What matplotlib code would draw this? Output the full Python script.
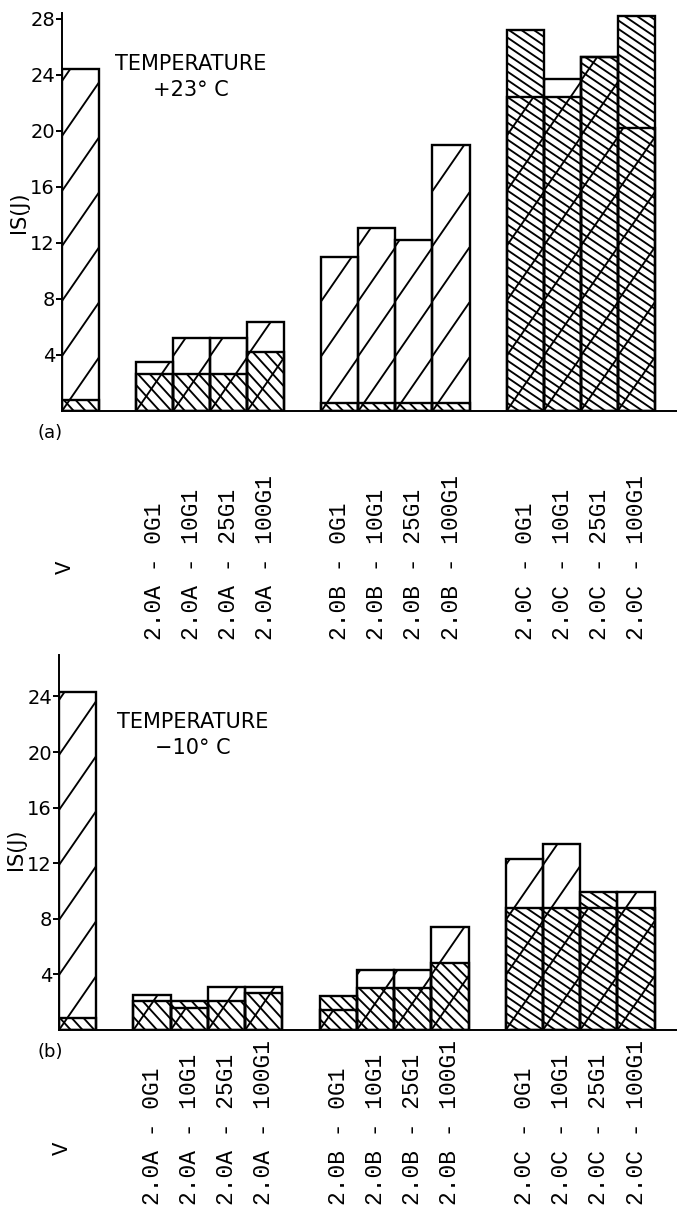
import numpy as np
import matplotlib
matplotlib.use("Agg")
import matplotlib.pyplot as plt
from matplotlib.collections import LineCollection
from matplotlib.transforms import IdentityTransform, blended_transform_factory

# ---- data ----
labels = ["V",
          "2.0A - 0G1", "2.0A - 10G1", "2.0A - 25G1", "2.0A - 100G1",
          "2.0B - 0G1", "2.0B - 10G1", "2.0B - 25G1", "2.0B - 100G1",
          "2.0C - 0G1", "2.0C - 10G1", "2.0C - 25G1", "2.0C - 100G1"]
group_sizes = [1, 4, 4, 4]

# +23 C : height of the "/" hatched bar and of the "\" hatched bar (IS, J)
sparse_23 = [24.4, 3.5, 5.2, 5.2, 6.35, 11.0, 13.1, 12.2, 19.0, 22.4, 23.7, 25.3, 20.2]
dense_23 = [0.8, 2.65, 2.65, 2.65, 4.25, 0.6, 0.6, 0.6, 0.6, 27.2, 22.4, 25.3, 28.2]

# -10 C
sparse_m10 = [24.3, 2.5, 1.6, 3.1, 3.1, 1.45, 4.35, 4.35, 7.4, 12.3, 13.4, 8.8, 9.95]
dense_m10 = [0.85, 2.1, 2.1, 2.1, 2.65, 2.45, 3.05, 3.05, 4.85, 8.8, 8.8, 9.95, 8.8]

yticks_23 = [4, 8, 12, 16, 20, 24, 28]
yticks_m10 = [4, 8, 12, 16, 20, 24]

# ---- style ----
W, H = 677, 1214
LABEL_FONT = ["Liberation Mono", "DejaVu Sans Mono"]
SANS = dict(family=["DejaVu Sans"])
dense_style = [(-1.1, 13), (-1.1, 13), (-1.0, 11), (-0.68, 8.5)]  # per group: slope, step px
SPARSE_SLOPE, SPARSE_STEP = 1.45, 55

# bar centres: one slot per bar, one empty slot between groups
xpos, group_of = [], []
pos = 0.5
for g, n in enumerate(group_sizes):
    for i in range(n):
        xpos.append(pos)
        group_of.append(g)
        pos += 1
    pos += 1
xpos = np.array(xpos)


def px_rect(left, top, right, bottom):
    return [left / W, 1 - bottom / H, (right - left) / W, (bottom - top) / H]


def hatch(ax, bars, slopes, steps, lw=1.35):
    for bar, m, s in zip(bars, slopes, steps):
        ext = bar.get_window_extent()
        x0, y0, x1, y1 = ext.x0, ext.y0, ext.x1, ext.y1
        w, h = x1 - x0, y1 - y0
        kmin = int(np.floor(-max(m, 0) * w / s)) - 1
        kmax = int(np.ceil((h + max(-m, 0) * w) / s)) + 1
        segs = [[(x0, y0 + k * s), (x1, y0 + k * s + m * w)] for k in range(kmin, kmax + 1)]
        lc = LineCollection(segs, colors="black", linewidths=lw,
                            transform=IdentityTransform())
        ax.add_collection(lc, autolim=False)
        # clip after adding, otherwise add_collection resets it to the axes box
        lc.set_clip_path(bar)


def panel(rect, ymax, sparse, dense, yticks, title, temp, tag, tag_y,
          lab_bottom, v_y, title_xy, ylabel_xy):
    ax = fig.add_axes(rect)
    ax.set_xlim(0, 16.6)
    ax.set_ylim(0, ymax)
    for sp in ["top", "right"]:
        ax.spines[sp].set_visible(False)
    ax.spines["left"].set_linewidth(1.4)
    ax.spines["bottom"].set_linewidth(1.4)
    ax.set_xticks([])
    ax.set_yticks(yticks)
    ax.tick_params(axis="y", direction="out", length=4, width=1.4, pad=1, labelsize=14)

    b_sparse = ax.bar(xpos, sparse, width=1.0, fill=False, edgecolor="black", linewidth=1.7)
    b_dense = ax.bar(xpos, dense, width=1.0, fill=False, edgecolor="black", linewidth=1.7)
    hatch(ax, b_sparse, [SPARSE_SLOPE] * len(xpos), [SPARSE_STEP] * len(xpos))
    hatch(ax, b_dense, [dense_style[g][0] for g in group_of],
          [dense_style[g][1] for g in group_of])

    tr = blended_transform_factory(ax.transData, fig.transFigure)
    for x, lab in zip(xpos, labels):
        if lab == "V":
            ax.text(x - 0.4, 1 - v_y / H, lab, transform=tr, rotation=90, ha="center",
                    va="center", family=LABEL_FONT, fontsize=16)
        else:
            ax.text(x, 1 - lab_bottom / H, lab, transform=tr, rotation=90, ha="center",
                    va="bottom", family=LABEL_FONT, fontsize=16.5)

    tx, ty = title_xy
    fig.text(tx / W, 1 - ty / H, title, ha="center", va="center", fontsize=15, **SANS)
    fig.text(tx / W, 1 - (ty + 26) / H, temp, ha="center", va="center", fontsize=15, **SANS)
    fig.text(ylabel_xy[0] / W, 1 - ylabel_xy[1] / H, "IS(J)", rotation=90, ha="center",
             va="center", fontsize=15, **SANS)
    fig.text(50 / W, 1 - tag_y / H, tag, ha="center", va="center", fontsize=13, **SANS)
    return ax


fig = plt.figure(figsize=(W / 100, H / 100), dpi=100)

panel(px_rect(62, 411 - 28.4 * 14.0, 677, 411), 28.4, sparse_23, dense_23, yticks_23,
      "TEMPERATURE", "+23° C", "(a)", 433, 640, 567, (191, 64), (19, 212))
panel(px_rect(59, 1030 - 27.0 * 13.9, 677, 1030), 27.0, sparse_m10, dense_m10, yticks_m10,
      "TEMPERATURE", "\u221210° C", "(b)", 1052, 1205, 1148, (193, 722), (16, 849))

fig.savefig("out.png", dpi=100)
